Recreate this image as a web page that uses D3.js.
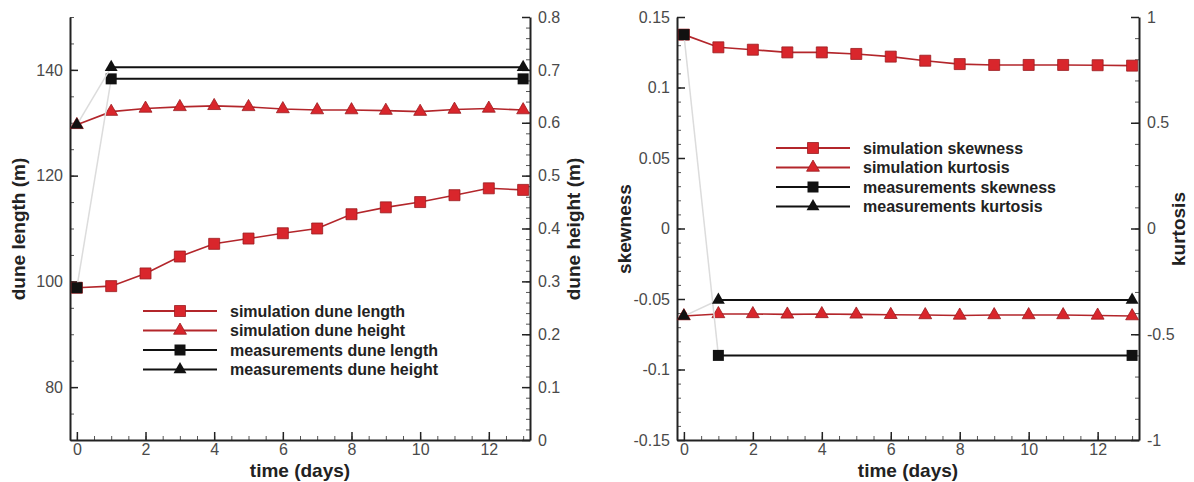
<!DOCTYPE html>
<html>
<head>
<meta charset="utf-8">
<script src="https://cdn.jsdelivr.net/npm/d3@7"></script>
<style>
  body { margin: 0; background: #fff; }
  svg { display: block; font-family: "Liberation Sans", Arial, sans-serif; }
  .tick text { fill: #4a4a4a; font-size: 16px; }
  .domain { stroke: #222; stroke-width: 2; }
  .tick line { stroke: #222; stroke-width: 1.5; }
  .minor .tick line { stroke-width: 1; stroke: #555; }
  .title { font-weight: bold; font-size: 19px; fill: #222; }
  .legend text { font-weight: bold; font-size: 16px; fill: #222; }
</style>
</head>
<body>
<div id="canvas"></div>
<script>
// days of simulation
const days = [0, 1, 2, 3, 4, 5, 6, 7, 8, 9, 10, 11, 12, 13];
const measDays = [0, 1, 13];

// left panel
const simLength = [98.8, 99.1, 101.5, 104.7, 107.1, 108.1, 109.1, 110.0, 112.7, 114.0, 115.0, 116.3, 117.6, 117.3];
const simHeight = [0.596, 0.621, 0.627, 0.630, 0.632, 0.630, 0.626, 0.624, 0.624, 0.623, 0.621, 0.625, 0.627, 0.624];
const measLength = [98.8, 138.3, 138.3];
const measHeight = [0.596, 0.705, 0.705];

// right panel
const simSkew = [0.1375, 0.1285, 0.1268, 0.1249, 0.1249, 0.1238, 0.1219, 0.1190, 0.1166, 0.1160, 0.1160, 0.1160, 0.1158, 0.1155];
const simKurt = [-0.414, -0.404, -0.404, -0.406, -0.404, -0.406, -0.408, -0.409, -0.411, -0.409, -0.409, -0.409, -0.411, -0.414];
const measSkew = [0.1375, -0.090, -0.090];
const measKurt = [-0.414, -0.338, -0.338];

// ticks
const xTicks = [0, 2, 4, 6, 8, 10, 12];
const lengthTicks = [80, 100, 120, 140];
const heightTicks = [0, 0.1, 0.2, 0.3, 0.4, 0.5, 0.6, 0.7, 0.8];
const skewTicks = [-0.15, -0.1, -0.05, 0, 0.05, 0.1, 0.15];
const kurtTicks = [-1, -0.5, 0, 0.5, 1];

const legendLeft = ["simulation dune length", "simulation dune height", "measurements dune length", "measurements dune height"];
const legendRight = ["simulation skewness", "simulation kurtosis", "measurements skewness", "measurements kurtosis"];

const RED_LINE = "#b3262b", RED_FILL = "#d9262c", RED_EDGE = "#9a1c20", BLACK = "#111", FAINT = "#dcdcdc";

const width = 1194, height = 482;
const svg = d3.select("#canvas").append("svg").attr("width", width).attr("height", height);

const fmt = d => String(+(+d).toFixed(3));
const range = (a, b, s) => d3.range(0, Math.round((b - a) / s) + 1).map(i => +(a + i * s).toFixed(4));

function drawPanel(p) {
  const x = d3.scaleLinear().domain([-0.2, 13.2]).range([p.left, p.right]);
  const yL = d3.scaleLinear().domain(p.leftDomain).range([440, 17]);
  const yR = d3.scaleLinear().domain(p.rightDomain).range([440, 17]);

  // minor ticks
  svg.append("g").attr("class", "minor").attr("transform", "translate(0,440)")
    .call(d3.axisBottom(x).tickValues(range(0, 13, 0.5)).tickSizeInner(-4).tickSizeOuter(0).tickFormat(""))
    .call(g => g.select(".domain").remove());
  svg.append("g").attr("class", "minor").attr("transform", `translate(${p.left},0)`)
    .call(d3.axisLeft(yL).tickValues(p.leftMinor).tickSizeInner(-4).tickSizeOuter(0).tickFormat(""))
    .call(g => g.select(".domain").remove());
  svg.append("g").attr("class", "minor").attr("transform", `translate(${p.right},0)`)
    .call(d3.axisRight(yR).tickValues(p.rightMinor).tickSizeInner(-4).tickSizeOuter(0).tickFormat(""))
    .call(g => g.select(".domain").remove());

  // major axes
  svg.append("g").attr("transform", "translate(0,440)")
    .call(d3.axisBottom(x).tickValues(xTicks).tickSizeInner(-8).tickSizeOuter(0).tickPadding(4).tickFormat(fmt));
  svg.append("g").attr("transform", `translate(${p.left},0)`)
    .call(d3.axisLeft(yL).tickValues(p.leftTicks).tickSizeInner(-8).tickSizeOuter(0).tickPadding(7).tickFormat(fmt));
  svg.append("g").attr("transform", `translate(${p.right},0)`)
    .call(d3.axisRight(yR).tickValues(p.rightTicks).tickSizeInner(-8).tickSizeOuter(0).tickPadding(8).tickFormat(fmt));

  // titles
  svg.append("text").attr("class", "title").attr("text-anchor", "middle")
    .attr("x", (p.left + p.right) / 2).attr("y", 477).text("time (days)");
  svg.append("text").attr("class", "title").attr("text-anchor", "middle")
    .attr("transform", `translate(${p.leftTitleX},229) rotate(-90)`).text(p.leftTitle);
  svg.append("text").attr("class", "title").attr("text-anchor", "middle")
    .attr("transform", `translate(${p.rightTitleX},229) rotate(-90)`).text(p.rightTitle);

  const sq = d3.symbol().type(d3.symbolSquare).size(121);
  const tri = d3.symbol().type(d3.symbolTriangle).size(72);

  function simSeries(vals, y, sym) {
    const line = d3.line().x((d, i) => x(days[i])).y(d => y(d));
    svg.append("path").datum(vals).attr("d", line)
      .attr("fill", "none").attr("stroke", RED_LINE).attr("stroke-width", 1.6);
    svg.append("g").selectAll("path").data(vals).join("path")
      .attr("transform", (d, i) => `translate(${x(days[i])},${y(d)})`)
      .attr("d", sym).attr("fill", RED_FILL).attr("stroke", RED_EDGE).attr("stroke-width", 0.8);
  }
  function measSeries(vals, y, sym) {
    svg.append("path").datum(vals.slice(0, 2)).attr("d", d3.line().x((d, i) => x(measDays[i])).y(d => y(d)))
      .attr("fill", "none").attr("stroke", FAINT).attr("stroke-width", 1.5);
    svg.append("path").datum(vals.slice(1)).attr("d", d3.line().x((d, i) => x(measDays[i + 1])).y(d => y(d)))
      .attr("fill", "none").attr("stroke", BLACK).attr("stroke-width", 2);
    svg.append("g").selectAll("path").data(vals).join("path")
      .attr("transform", (d, i) => `translate(${x(measDays[i])},${y(d)})`)
      .attr("d", sym).attr("fill", BLACK);
  }

  simSeries(p.simA, yL, sq);
  simSeries(p.simB, yR, tri);
  measSeries(p.measA, yL, sq);
  measSeries(p.measB, yR, tri);

  // legend
  const styles = [
    { c: RED_LINE, f: RED_FILL, s: sq }, { c: RED_LINE, f: RED_FILL, s: tri },
    { c: BLACK, f: BLACK, s: sq }, { c: BLACK, f: BLACK, s: tri }
  ];
  const lg = svg.append("g").attr("class", "legend");
  p.legend.forEach((name, i) => {
    const yy = p.legY + i * 19.5;
    lg.append("line").attr("x1", p.legX).attr("x2", p.legX + 74).attr("y1", yy).attr("y2", yy)
      .attr("stroke", styles[i].c).attr("stroke-width", 2);
    lg.append("path").attr("transform", `translate(${p.legX + 37},${yy})`).attr("d", styles[i].s)
      .attr("fill", styles[i].f).attr("stroke", i < 2 ? RED_EDGE : "none").attr("stroke-width", 0.8);
    lg.append("text").attr("x", p.legX + 87).attr("y", yy + 5.5).text(name);
  });
}

drawPanel({
  left: 70, right: 530,
  leftDomain: [70, 150], rightDomain: [0, 0.8],
  leftTicks: lengthTicks, rightTicks: heightTicks,
  leftMinor: range(70, 150, 5), rightMinor: range(0, 0.8, 0.02),
  leftTitle: "dune length (m)", rightTitle: "dune height (m)",
  leftTitleX: 25, rightTitleX: 580,
  simA: simLength, simB: simHeight, measA: measLength, measB: measHeight,
  legend: legendLeft, legX: 143, legY: 311
});

drawPanel({
  left: 677, right: 1139,
  leftDomain: [-0.15, 0.15], rightDomain: [-1, 1],
  leftTicks: skewTicks, rightTicks: kurtTicks,
  leftMinor: range(-0.15, 0.15, 0.01), rightMinor: range(-1, 1, 0.1),
  leftTitle: "skewness", rightTitle: "kurtosis",
  leftTitleX: 631, rightTitleX: 1185,
  simA: simSkew, simB: simKurt, measA: measSkew, measB: measKurt,
  legend: legendRight, legX: 776, legY: 148
});
</script>
</body>
</html>
